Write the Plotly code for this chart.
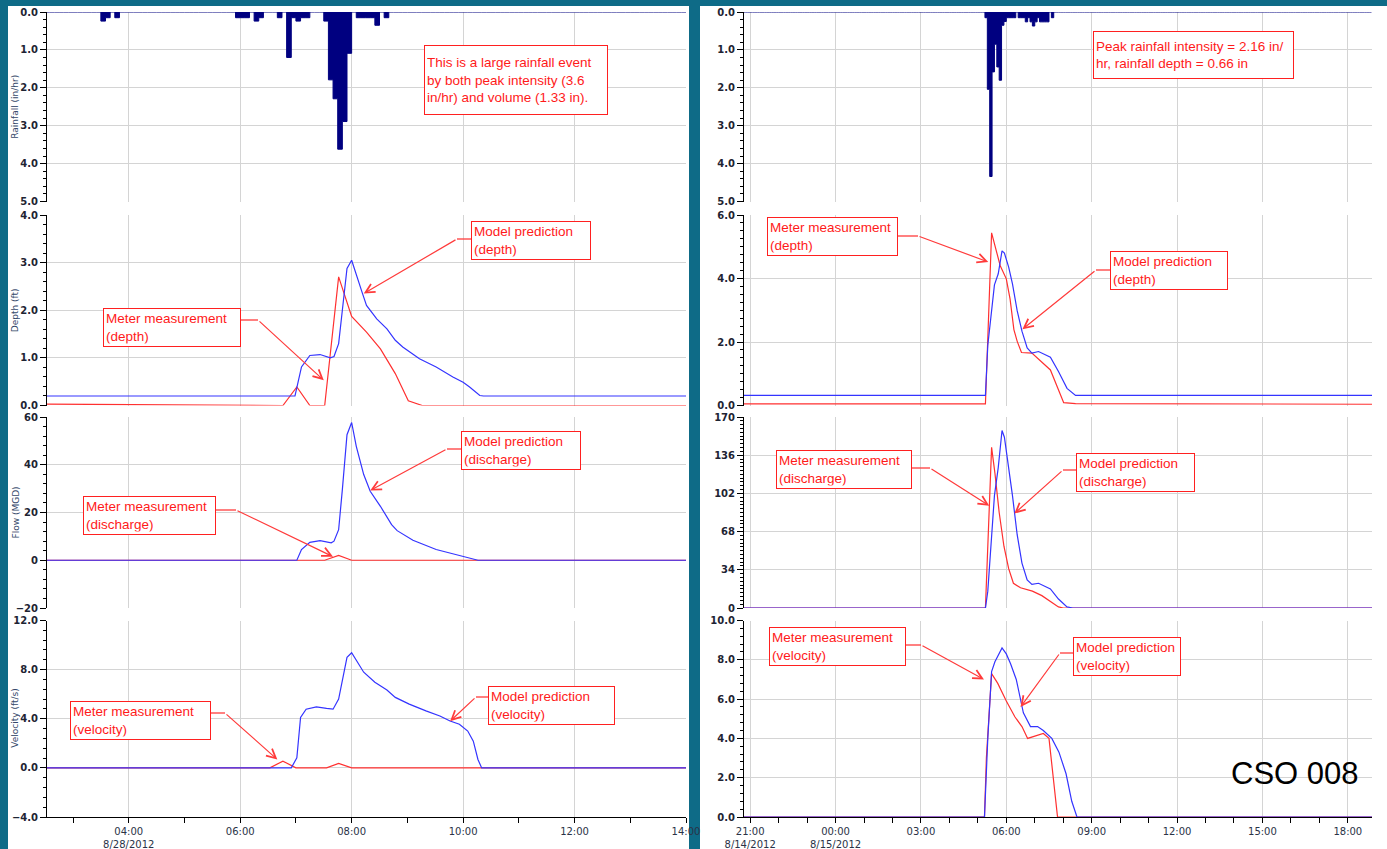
import pandas as pd
import plotly.graph_objects as go

W, H = 1387, 849

# ---------------- LEFT EVENT (8/28/2012) ----------------
L_DAY = "2012-08-28 "
L_XRANGE = ["2012-08-28 02:32", "2012-08-28 14:00"]
L_TICKS = ["04:00", "06:00", "08:00", "10:00", "12:00", "14:00"]
L_TICKTEXT = ["04:00<br>8/28/2012", "06:00", "08:00", "10:00", "12:00", "14:00"]

l_rain_time = ["03:30", "03:35", "03:45", "05:55", "06:00", "06:05", "06:15", "06:20", "06:40",
               "06:50", "06:55", "07:00", "07:05", "07:10", "07:30", "07:35", "07:40", "07:45",
               "07:50", "07:55", "08:05", "08:10", "08:15", "08:20", "08:25", "08:35"]
l_rain_val = [0.24, 0.15, 0.15, 0.15, 0.15, 0.15, 0.24, 0.15, 0.15,
              1.2, 0.15, 0.24, 0.15, 0.15, 0.24, 1.79, 2.29, 3.62,
              2.89, 1.09, 0.15, 0.15, 0.15, 0.15, 0.35, 0.15]

l_depth_model_time = ["02:30", "06:59", "07:06", "07:15", "07:26", "07:37", "07:41", "07:46", "07:50",
                      "07:55", "08:00", "08:05", "08:11", "08:16", "08:27", "08:38", "08:47", "08:55",
                      "09:13", "09:31", "09:49", "10:00", "10:07", "10:18", "10:22", "14:00"]
l_depth_model_val = [0.2, 0.2, 0.81, 1.05, 1.07, 1.0, 1.03, 1.3, 2.0,
                     2.88, 3.05, 2.77, 2.39, 2.1, 1.82, 1.61, 1.37, 1.23,
                     0.98, 0.81, 0.6, 0.49, 0.39, 0.21, 0.2, 0.2]
l_depth_meter_time = ["02:30", "06:00", "06:46", "07:01", "07:15", "07:31", "07:46", "08:00", "08:16",
                      "08:31", "08:47", "09:01", "09:16", "14:00"]
l_depth_meter_val = [0.03, 0.01, 0.0, 0.39, 0.0, 0.0, 2.7, 1.87, 1.54,
                     1.19, 0.67, 0.1, 0.0, 0.0]

l_flow_model_time = ["02:30", "07:01", "07:06", "07:15", "07:26", "07:38", "07:41", "07:46", "07:50",
                     "07:55", "08:00", "08:05", "08:13", "08:20", "08:31", "08:43", "08:49", "09:06",
                     "09:31", "10:00", "10:16", "14:00"]
l_flow_model_val = [0, 0, 4.5, 7.5, 8.2, 7.3, 8.0, 12.8, 29.6,
                    52.6, 57.7, 47.7, 35.9, 28.9, 22.6, 14.9, 12.4, 8.4,
                    4.5, 1.7, 0, 0]
l_flow_meter_time = ["02:30", "07:31", "07:46", "08:00", "14:00"]
l_flow_meter_val = [0, 0, 2.0, 0, 0]

l_vel_model_time = ["02:30", "06:55", "07:01", "07:05", "07:11", "07:22", "07:33", "07:40", "07:46",
                    "07:51", "07:55", "08:00", "08:05", "08:13", "08:25", "08:38", "08:47", "09:02",
                    "09:20", "09:35", "09:46", "09:56", "10:05", "10:11", "10:16", "10:20", "14:00"]
l_vel_model_val = [0, 0, 0.82, 4.1, 4.78, 4.97, 4.84, 4.78, 5.6,
                   7.38, 9.0, 9.37, 8.74, 7.79, 6.97, 6.34, 5.74, 5.19,
                   4.64, 4.23, 3.82, 3.55, 3.0, 2.18, 0.68, 0, 0]
l_vel_meter_time = ["02:30", "06:32", "06:46", "07:00", "07:33", "07:46", "08:00", "14:00"]
l_vel_meter_val = [0, 0, 0.55, 0, 0, 0.36, 0, 0]

# ---------------- RIGHT EVENT (8/14-8/15/2012) ----------------
R_XRANGE = ["2012-08-14 20:47", "2012-08-15 18:51"]
R_TICKS = ["21:00", "00:00", "03:00", "06:00", "09:00", "12:00", "15:00", "18:00"]
R_TICKTEXT = ["21:00<br>8/14/2012", "00:00<br>8/15/2012", "03:00", "06:00", "09:00", "12:00", "15:00", "18:00"]

r_rain_time = ["05:15", "05:20", "05:25", "05:30", "05:35", "05:40", "05:45", "05:50", "05:55",
               "06:00", "06:05", "06:10", "06:15", "06:25", "06:30", "06:35", "06:40", "06:45",
               "06:50", "06:55", "07:00", "07:05", "07:10", "07:15", "07:20", "07:25", "07:35"]
r_rain_val = [0.15, 2.04, 4.34, 1.58, 0.85, 1.45, 1.8, 0.35, 0.25,
              0.15, 0.15, 0.15, 0.15, 0.15, 0.15, 0.15, 0.26, 0.15,
              0.26, 0.37, 0.26, 0.15, 0.26, 0.26, 0.26, 0.26, 0.15]

r_depth_model_time = ["20:47", "05:16", "05:21", "05:35", "05:43", "05:51", "05:56", "06:05", "06:13",
                      "06:23", "06:33", "06:44", "06:54", "07:08", "07:33", "07:50", "08:08", "08:26", "18:51"]
r_depth_model_val = [0.32, 0.32, 1.9, 3.8, 4.15, 4.87, 4.8, 4.36, 3.83,
                     2.98, 2.34, 1.81, 1.65, 1.7, 1.52, 1.07, 0.54, 0.32, 0.32]
r_depth_meter_time = ["20:47", "05:16", "05:29", "05:38", "05:47", "06:00", "06:08", "06:16", "06:23",
                      "06:32", "06:54", "07:33", "07:50", "08:01", "08:26", "18:51"]
r_depth_meter_val = [0.05, 0.05, 5.44, 4.89, 4.41, 3.99, 3.35, 2.39, 2.02,
                     1.67, 1.65, 1.12, 0.48, 0.09, 0.06, 0.04]

r_flow_model_time = ["20:47", "05:16", "05:21", "05:35", "05:43", "05:51", "05:56", "06:05", "06:13",
                     "06:23", "06:33", "06:44", "06:54", "07:08", "07:33", "07:50", "08:08", "08:20", "18:51"]
r_flow_model_val = [0, 0, 15, 100, 125, 158, 152, 125, 100,
                    65, 40, 25, 21, 22, 17, 8, 1, 0, 0]
r_flow_meter_time = ["20:47", "05:16", "05:29", "05:36", "05:45", "05:55", "06:05", "06:15", "06:30",
                     "06:55", "07:15", "07:30", "07:50", "08:00", "18:51"]
r_flow_meter_val = [0, 0, 143, 120, 85, 55, 35, 22, 18,
                    15, 11, 7, 1, 0, 0]

r_vel_model_time = ["20:47", "05:14", "05:21", "05:29", "05:36", "05:51", "06:00", "06:09", "06:21",
                    "06:36", "06:51", "07:06", "07:18", "07:36", "07:51", "08:06", "08:18", "08:29", "18:51"]
r_vel_model_val = [0, 0, 4.0, 7.4, 7.9, 8.6, 8.3, 7.8, 7.0,
                   5.3, 4.6, 4.6, 4.4, 4.0, 3.3, 2.2, 0.8, 0, 0]
r_vel_meter_time = ["20:47", "05:14", "05:18", "05:29", "05:42", "06:00", "06:18", "06:33", "06:45",
                    "07:00", "07:18", "07:30", "07:37", "07:48", "18:51"]
r_vel_meter_val = [0, 0, 3.0, 7.3, 6.8, 5.9, 5.1, 4.6, 4.0,
                   4.1, 4.25, 4.0, 2.5, 0, 0]


def lt(times):
    return pd.to_datetime([L_DAY + t for t in times])


def rt(times):
    out = []
    for t in times:
        day = "2012-08-14 " if int(t[:2]) >= 19 else "2012-08-15 "
        out.append(day + t)
    return pd.to_datetime(out)


def rain_series(times, vals, start, end):
    idx = pd.date_range(pd.Timestamp(start).floor("5min"), pd.Timestamp(end), freq="5min")
    s = pd.Series(0.0, index=idx)
    for t, v in zip(times, vals):
        s[t] = v
    return s.index, s.values


# ---------------- layout geometry (pixels) ----------------
COL_X = [(47, 686), (744, 1372)]
ROW_Y = [(12, 201.5), (215, 405.5), (417, 608), (620.5, 817)]

Y_CFG = [  # per row, per column: range, dtick, minor, format
    [([5, 0], 1, 0.2, ".1f"), ([5, 0], 1, 0.2, ".1f")],
    [([0, 4], 1, 0.2, ".1f"), ([0, 6], 2, 0.25, ".1f")],
    [([-20, 60], 20, 4, "d"), ([0, 170], 34, 3.4, "d")],
    [([-4, 12], 4, 0.8, ".1f"), ([0, 10], 2, 0.4, ".1f")],
]
X_RANGES = [L_XRANGE, R_XRANGE]

BLUE = "#3434ff"
RED = "#ff3030"
NAVY = "#000080"

fig = go.Figure()

panel_series = [
    [("rain", lt(l_rain_time), l_rain_val),
     ("line", lt(l_depth_meter_time), l_depth_meter_val, lt(l_depth_model_time), l_depth_model_val),
     ("line", lt(l_flow_meter_time), l_flow_meter_val, lt(l_flow_model_time), l_flow_model_val),
     ("line", lt(l_vel_meter_time), l_vel_meter_val, lt(l_vel_model_time), l_vel_model_val)],
    [("rain", rt(r_rain_time), r_rain_val),
     ("line", rt(r_depth_meter_time), r_depth_meter_val, rt(r_depth_model_time), r_depth_model_val),
     ("line", rt(r_flow_meter_time), r_flow_meter_val, rt(r_flow_model_time), r_flow_model_val),
     ("line", rt(r_vel_meter_time), r_vel_meter_val, rt(r_vel_model_time), r_vel_model_val)],
]

layout_axes = {}
for c in range(2):
    for r in range(4):
        p = c * 4 + r + 1
        xa, ya = f"x{p}", f"y{p}"
        ser = panel_series[c][r]
        if ser[0] == "rain":
            xs, ys = rain_series(ser[1], ser[2], X_RANGES[c][0], X_RANGES[c][1])
            fig.add_trace(go.Scatter(x=xs, y=ys, mode="lines", line=dict(color=NAVY, width=1, shape="hv"),
                                     fill="tozeroy", fillcolor=NAVY, xaxis=xa, yaxis=ya, showlegend=False,
                                     hoverinfo="skip"))
        else:
            fig.add_trace(go.Scatter(x=ser[1], y=ser[2], mode="lines", line=dict(color=RED, width=1.2),
                                     xaxis=xa, yaxis=ya, showlegend=False, name="Meter measurement"))
            fig.add_trace(go.Scatter(x=ser[3], y=ser[4], mode="lines", line=dict(color=BLUE, width=1.2),
                                     xaxis=xa, yaxis=ya, showlegend=False, name="Model prediction"))

        x0, x1 = COL_X[c]
        yt, yb = ROW_Y[r]
        rng, dt, mn, fmt = Y_CFG[r][c]
        bottom = (r == 3)
        if c == 0:
            tickvals = lt(L_TICKS)
            ticktext = L_TICKTEXT
            minor_vals = pd.date_range("2012-08-28 03:00", "2012-08-28 14:00", freq="1h")
        else:
            tickvals = rt(R_TICKS)
            ticktext = R_TICKTEXT
            minor_vals = pd.date_range("2012-08-14 21:00", "2012-08-15 18:00", freq="1h")
        xkey = "xaxis" if p == 1 else f"xaxis{p}"
        ykey = "yaxis" if p == 1 else f"yaxis{p}"
        layout_axes[xkey] = dict(
            domain=[x0 / W, x1 / W], range=X_RANGES[c], type="date", anchor=ya, automargin=False,
            tickmode="array", tickvals=tickvals, ticktext=ticktext if bottom else [""] * len(ticktext),
            showticklabels=bottom, ticks="outside" if bottom else "", ticklen=5, tickcolor="black",
            showgrid=True, gridcolor="#d4d4d4", gridwidth=1.3, zeroline=False,
            showline=bottom, linecolor="black", linewidth=1,
            minor=dict(ticks="outside" if bottom else "", tickvals=minor_vals, ticklen=5,
                       tickcolor="black", showgrid=False),
            tickfont=dict(family="DejaVu Sans", size=10, color="#2a3347"),
            tickangle=0,
        )
        layout_axes[ykey] = dict(
            domain=[1 - yb / H, 1 - yt / H], range=rng, anchor=xa, automargin=False,
            tick0=0, dtick=dt, tickformat=fmt, ticks="outside", ticklen=6, tickcolor="black",
            showline=True, linecolor="black", linewidth=1,
            showgrid=True, gridcolor="#d4d4d4", gridwidth=1.3, zeroline=False,
            minor=dict(ticks="outside", tick0=0, dtick=mn, ticklen=3, tickcolor="black", showgrid=False),
            tickfont=dict(family="DejaVu Sans", size=10, color="#1e2433", weight="bold"),
        )


def px_to_data(p, xpx, ypx):
    c, r = (p - 1) // 4, (p - 1) % 4
    x0, x1 = COL_X[c]
    t0, t1 = pd.Timestamp(X_RANGES[c][0]), pd.Timestamp(X_RANGES[c][1])
    t = t0 + (t1 - t0) * ((xpx - x0) / (x1 - x0))
    yt, yb = ROW_Y[r]
    rng = Y_CFG[r][c][0]
    v = rng[0] + (yb - ypx) / (yb - yt) * (rng[1] - rng[0])
    return t.strftime("%Y-%m-%d %H:%M:%S"), v


# ---------------- callouts ----------------
TXT_FONT = dict(family="Liberation Sans, Arial", size=13.5, color="#ff1a1a")
annotations = []
shapes = []

shapes.append(dict(type="rect", xref="paper", yref="paper", x0=8 / W, x1=689 / W, y0=0, y1=1 - 6 / H,
                   fillcolor="white", line=dict(width=0), layer="below"))
shapes.append(dict(type="rect", xref="paper", yref="paper", x0=700 / W, x1=1, y0=0, y1=1 - 6 / H,
                   fillcolor="white", line=dict(width=0), layer="below"))

boxes = [
    ("This is a large rainfall event<br>by both peak intensity (3.6<br>in/hr) and volume (1.33 in).", 424, 45, 184, 70),
    ("Peak rainfall intensity = 2.16 in/<br>hr, rainfall depth = 0.66 in", 1093, 31, 201, 48),
]

callouts = [
    # panel, text, box left, box top, box w, side, leader y, bend x, target time, target value
    (2, "Model prediction<br>(depth)", 471, 221, 120, "L", 239, 457, "2012-08-28 08:13", 2.35),
    (2, "Meter measurement<br>(depth)", 103, 308, 138, "R", 320, 258, "2012-08-28 07:30", 0.53),
    (3, "Model prediction<br>(discharge)", 461, 431, 120, "L", 449, 447, "2012-08-28 08:20", 29.2),
    (3, "Meter measurement<br>(discharge)", 83, 496, 133, "R", 510, 236, "2012-08-28 07:40", 1.5),
    (4, "Model prediction<br>(velocity)", 488, 686, 127, "L", 697, 476, "2012-08-28 09:46", 3.8),
    (4, "Meter measurement<br>(velocity)", 70, 701, 141, "R", 713, 225, "2012-08-28 06:40", 0.68),
    (6, "Meter measurement<br>(depth)", 767, 217, 131, "R", 236, 918, "2012-08-15 05:22", 4.52),
    (6, "Model prediction<br>(depth)", 1110, 251, 118, "L", 270, 1096, "2012-08-15 06:34", 2.4),
    (7, "Meter measurement<br>(discharge)", 776, 450, 136, "R", 468, 930, "2012-08-15 05:24", 91),
    (7, "Model prediction<br>(discharge)", 1076, 453, 119, "L", 470, 1063, "2012-08-15 06:17", 84),
    (8, "Meter measurement<br>(velocity)", 769, 627, 137, "R", 645, 921, "2012-08-15 05:13", 7.0),
    (8, "Model prediction<br>(velocity)", 1073, 637, 108, "L", 653, 1060, "2012-08-15 06:30", 5.6),
]


def box(text, bx, by, bw, bh=None):
    d = dict(text=text, xref="paper", yref="paper", x=bx / W, y=1 - by / H,
             xanchor="left", yanchor="top", showarrow=False, align="left", valign="middle",
             width=bw - 6, borderpad=2, borderwidth=1, bordercolor="#ff2020",
             bgcolor="white", font=TXT_FONT)
    if bh is not None:
        d["height"] = bh - 6
    return d


for text, bx, by, bw, bh in boxes:
    annotations.append(box(text, bx, by, bw, bh))

for p, text, bx, by, bw, side, ly, bendx, tt, tv in callouts:
    annotations.append(box(text, bx, by, bw))
    edge = bx if side == "L" else bx + bw
    shapes.append(dict(type="line", xref="paper", yref="paper", x0=edge / W, x1=bendx / W,
                       y0=1 - ly / H, y1=1 - ly / H, line=dict(color="#ff3b3b", width=1.3)))
    ax_t, ay_v = px_to_data(p, bendx, ly)
    annotations.append(dict(text="", x=tt, y=tv, xref=f"x{p}", yref=f"y{p}",
                            ax=ax_t, ay=ay_v, axref=f"x{p}", ayref=f"y{p}",
                            showarrow=True, arrowhead=5, arrowsize=1.5, arrowwidth=1.2,
                            arrowcolor="#ff3b3b", standoff=0))

AXIS_TITLES = ["Rainfall (in/hr)", "Depth (ft)", "Flow (MGD)", "Velocity (ft/s)"]
for r, title in enumerate(AXIS_TITLES):
    yt, yb = ROW_Y[r]
    annotations.append(dict(text=title, xref="paper", yref="paper", x=15 / W, y=1 - (yt + yb) / 2 / H,
                            xanchor="center", yanchor="middle", textangle=-90, showarrow=False,
                            font=dict(family="DejaVu Sans", size=9, color="#34486a")))

annotations.append(dict(text="CSO 008", xref="paper", yref="paper", x=1295 / W, y=1 - 773 / H,
                        xanchor="center", yanchor="middle", showarrow=False,
                        font=dict(family="Liberation Sans, Arial", size=31, color="black")))

fig.update_layout(
    width=W, height=H, autosize=False,
    margin=dict(l=0, r=0, t=0, b=0, pad=0),
    paper_bgcolor="#0e6b87", plot_bgcolor="white",
    showlegend=False,
    annotations=annotations, shapes=shapes,
    **layout_axes,
)

fig.write_html("out.html", config={"displayModeBar": False},
               post_script="document.body.style.margin='0';document.body.style.overflow='hidden';")
